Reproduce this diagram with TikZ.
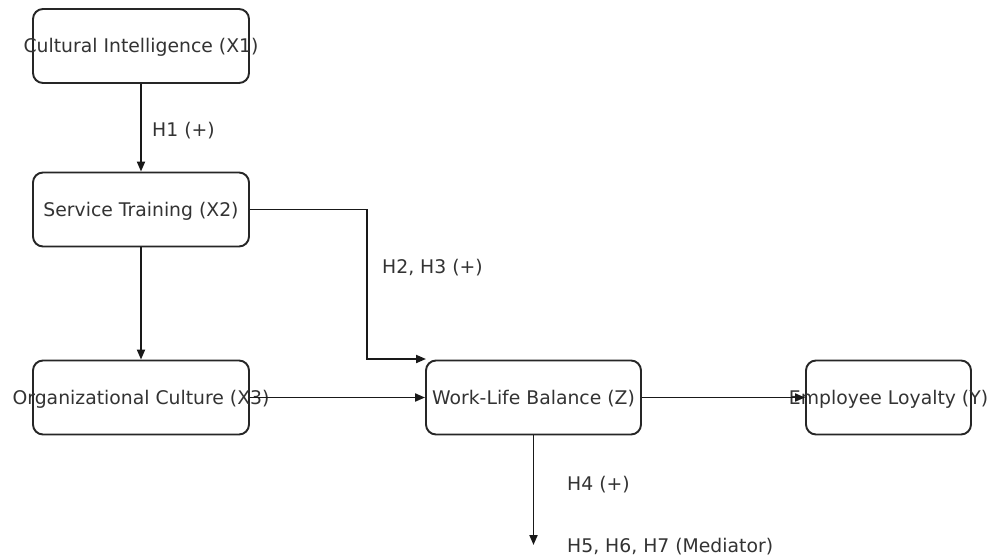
\documentclass[tikz,border=0pt]{standalone}
\usepackage{fontspec}
\setmainfont{DejaVu Sans}
\usetikzlibrary{arrows.meta}
\begin{document}
\begin{tikzpicture}[x=1pt,y=-1pt,
  box/.style={draw=black!85, line width=1.9pt, rounded corners=10pt, inner sep=0pt},
  txt/.style={font=\fontsize{18.8}{21}\selectfont, text=black!80, yshift=-1.5pt},
  conn/.style={draw=black!90, line width=1.9pt, -{Triangle[length=10pt,width=8pt]}},
  lbl/.style={font=\fontsize{18.8}{21}\selectfont, text=black!80, anchor=west, inner sep=0pt}]
\useasboundingbox[fill=white] (0,0) rectangle (988,557);
\node[box, minimum width=216pt, minimum height=74pt, label={[txt]center:Cultural Intelligence (X1)}] (x1) at (141,46) {};
\node[box, minimum width=216pt, minimum height=74pt, label={[txt]center:Service Training (X2)}] (x2) at (141,209.5) {};
\node[box, minimum width=216pt, minimum height=74pt, label={[txt]center:Organizational Culture (X3)}] (x3) at (141,397.5) {};
\node[box, minimum width=215pt, minimum height=74pt, label={[txt]center:Work-Life Balance (Z)}] (z) at (533.5,397.5) {};
\node[box, minimum width=165pt, minimum height=74pt, label={[txt]center:Employee Loyalty (Y)}] (y) at (888.5,397.5) {};
\coordinate (zin) at (426,359);
\coordinate (bend) at (367,359);
\coordinate (zout) at (533.5,545);
\draw[conn] (x1.south) -- (x2.north);
\draw[conn] (x2.south) -- (x3.north);
\draw[conn] (x2.east) -| (bend) -- (zin);
\draw[conn] (x3.east) -- (z.west);
\draw[conn] (z.east) -- (y.west);
\draw[conn] (z.south) -- (zout);
\node[lbl] (h1) at (152,131) {H1 (+)};
\node[lbl] (h23) at (382,268) {H2, H3 (+)};
\node[lbl] (h4) at (567,485) {H4 (+)};
\node[lbl] (h567) at (567,547) {H5, H6, H7 (Mediator)};
\end{tikzpicture}
\end{document}
